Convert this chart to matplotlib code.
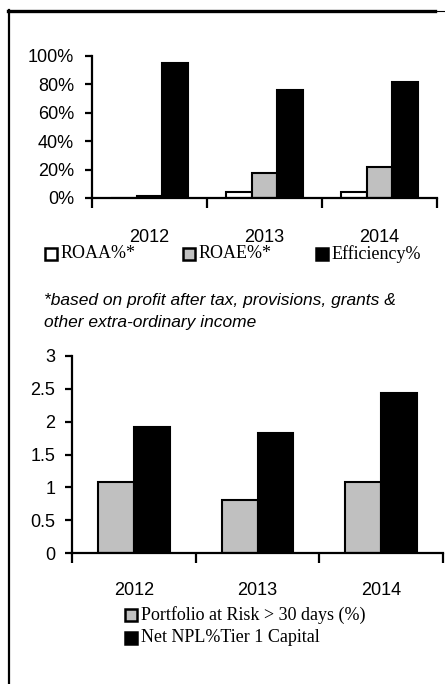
import matplotlib
matplotlib.use("Agg")
import matplotlib.pyplot as plt
from matplotlib.patches import Rectangle
from matplotlib.lines import Line2D
import numpy as np

years = ["2012", "2013", "2014"]
top_labels = ["ROAA%*", "ROAE%*", "Efficiency%"]
roaa = [0.0, 0.044, 0.044]
roae = [0.015, 0.174, 0.216]
efficiency = [0.95, 0.76, 0.815]
top_yticks = [0, 0.2, 0.4, 0.6, 0.8, 1.0]
top_yticklabels = ["0%", "20%", "40%", "60%", "80%", "100%"]

bottom_labels = ["Portfolio at Risk > 30 days (%)", "Net NPL%Tier 1 Capital"]
par30 = [1.09, 0.81, 1.09]
npl = [1.91, 1.83, 2.44]
bottom_yticks = [0, 0.5, 1, 1.5, 2, 2.5, 3]
bottom_yticklabels = ["0", "0.5", "1", "1.5", "2", "2.5", "3"]

footnote_lines = ["*based on profit after tax, provisions, grants &",
                  "other extra-ordinary income"]

W, H = 445, 684
fig = plt.figure(figsize=(W / 100, H / 100), dpi=100)

def fx(px):
    return px / W

def fy(py):
    return 1 - py / H

SANS = "Liberation Sans"
SERIF = "Liberation Serif"
GRAY = "#c0c0c0"

def style_axes(ax, xpad, ypad):
    for s in ["top", "right"]:
        ax.spines[s].set_visible(False)
    for s in ["left", "bottom"]:
        ax.spines[s].set_linewidth(1.6)
        ax.spines[s].set_color("black")
    ax.set_xlim(-0.5, len(years) - 0.5)
    ax.set_xticks(np.arange(len(years)))
    ax.set_xticklabels(years, fontfamily=SANS, fontsize=13)
    ax.tick_params(axis="x", which="major", length=0, pad=xpad)
    ax.set_xticks(np.arange(len(years) + 1) - 0.5, minor=True)
    ax.tick_params(axis="x", which="minor", length=7, width=1.6, direction="out")
    ax.tick_params(axis="y", length=5, width=1.6, direction="out", pad=ypad)
    for lab in ax.get_yticklabels():
        lab.set_fontfamily(SANS)
        lab.set_fontsize(13)
    ax.set_facecolor("none")

# ---- top chart
ax1 = fig.add_axes([fx(92), fy(198), fx(437) - fx(92), fy(56) - fy(198)])
x = np.arange(len(years))
bw = 0.225
ax1.bar(x - bw, roaa, bw, color="white", edgecolor="black", linewidth=1.5, label=top_labels[0])
ax1.bar(x, roae, bw, color=GRAY, edgecolor="black", linewidth=1.5, label=top_labels[1])
ax1.bar(x + bw, efficiency, bw, color="black", edgecolor="black", linewidth=1.5, label=top_labels[2])
ax1.set_ylim(0, 1.0)
ax1.set_yticks(top_yticks)
ax1.set_yticklabels(top_yticklabels)
style_axes(ax1, 22, 8)

# ---- bottom chart
ax2 = fig.add_axes([fx(72), fy(553.3), fx(443) - fx(72), fy(355.7) - fy(553.3)])
bw2 = 0.29
ax2.bar(x - bw2 / 2, par30, bw2, color=GRAY, edgecolor="black", linewidth=1.5, label=bottom_labels[0])
ax2.bar(x + bw2 / 2, npl, bw2, color="black", edgecolor="black", linewidth=1.5, label=bottom_labels[1])
ax2.set_ylim(0, 3)
ax2.set_yticks(bottom_yticks)
ax2.set_yticklabels(bottom_yticklabels)
style_axes(ax2, 21, 7)

# ---- legends (manual)
def legend_item(px, py, face, label, size=13):
    s = 12
    r = Rectangle((fx(px), fy(py + s / 2)), fx(s), fy(0) - fy(s), transform=fig.transFigure,
                  facecolor=face, edgecolor="black", linewidth=1.8)
    fig.add_artist(r)
    fig.text(fx(px + s + 4), fy(py), label, fontfamily=SERIF, fontsize=size,
             va="center", ha="left")

top_faces = ["white", GRAY, "black"]
top_pos = [45, 183, 316]
for p, f, l in zip(top_pos, top_faces, top_labels):
    legend_item(p, 254, f, l)

bottom_faces = [GRAY, "black"]
for i, (f, l) in enumerate(zip(bottom_faces, bottom_labels)):
    legend_item(125, 615 + i * 23, f, l)

for i, line in enumerate(footnote_lines):
    fig.text(fx(44), fy(300 + i * 22), line, fontfamily=SANS, fontstyle="italic",
             fontsize=12.5, va="center", ha="left")

# ---- frame
fig.add_artist(Line2D([fx(8), fx(435)], [fy(11), fy(11)], transform=fig.transFigure,
                      color="black", linewidth=2.4))
fig.add_artist(Line2D([fx(435), fx(445)], [fy(11), fy(11)], transform=fig.transFigure,
                      color="black", linewidth=0.8))
fig.add_artist(Line2D([fx(9), fx(9)], [fy(10), fy(684)], transform=fig.transFigure,
                      color="black", linewidth=1.6))

fig.savefig("out.png", dpi=100)
